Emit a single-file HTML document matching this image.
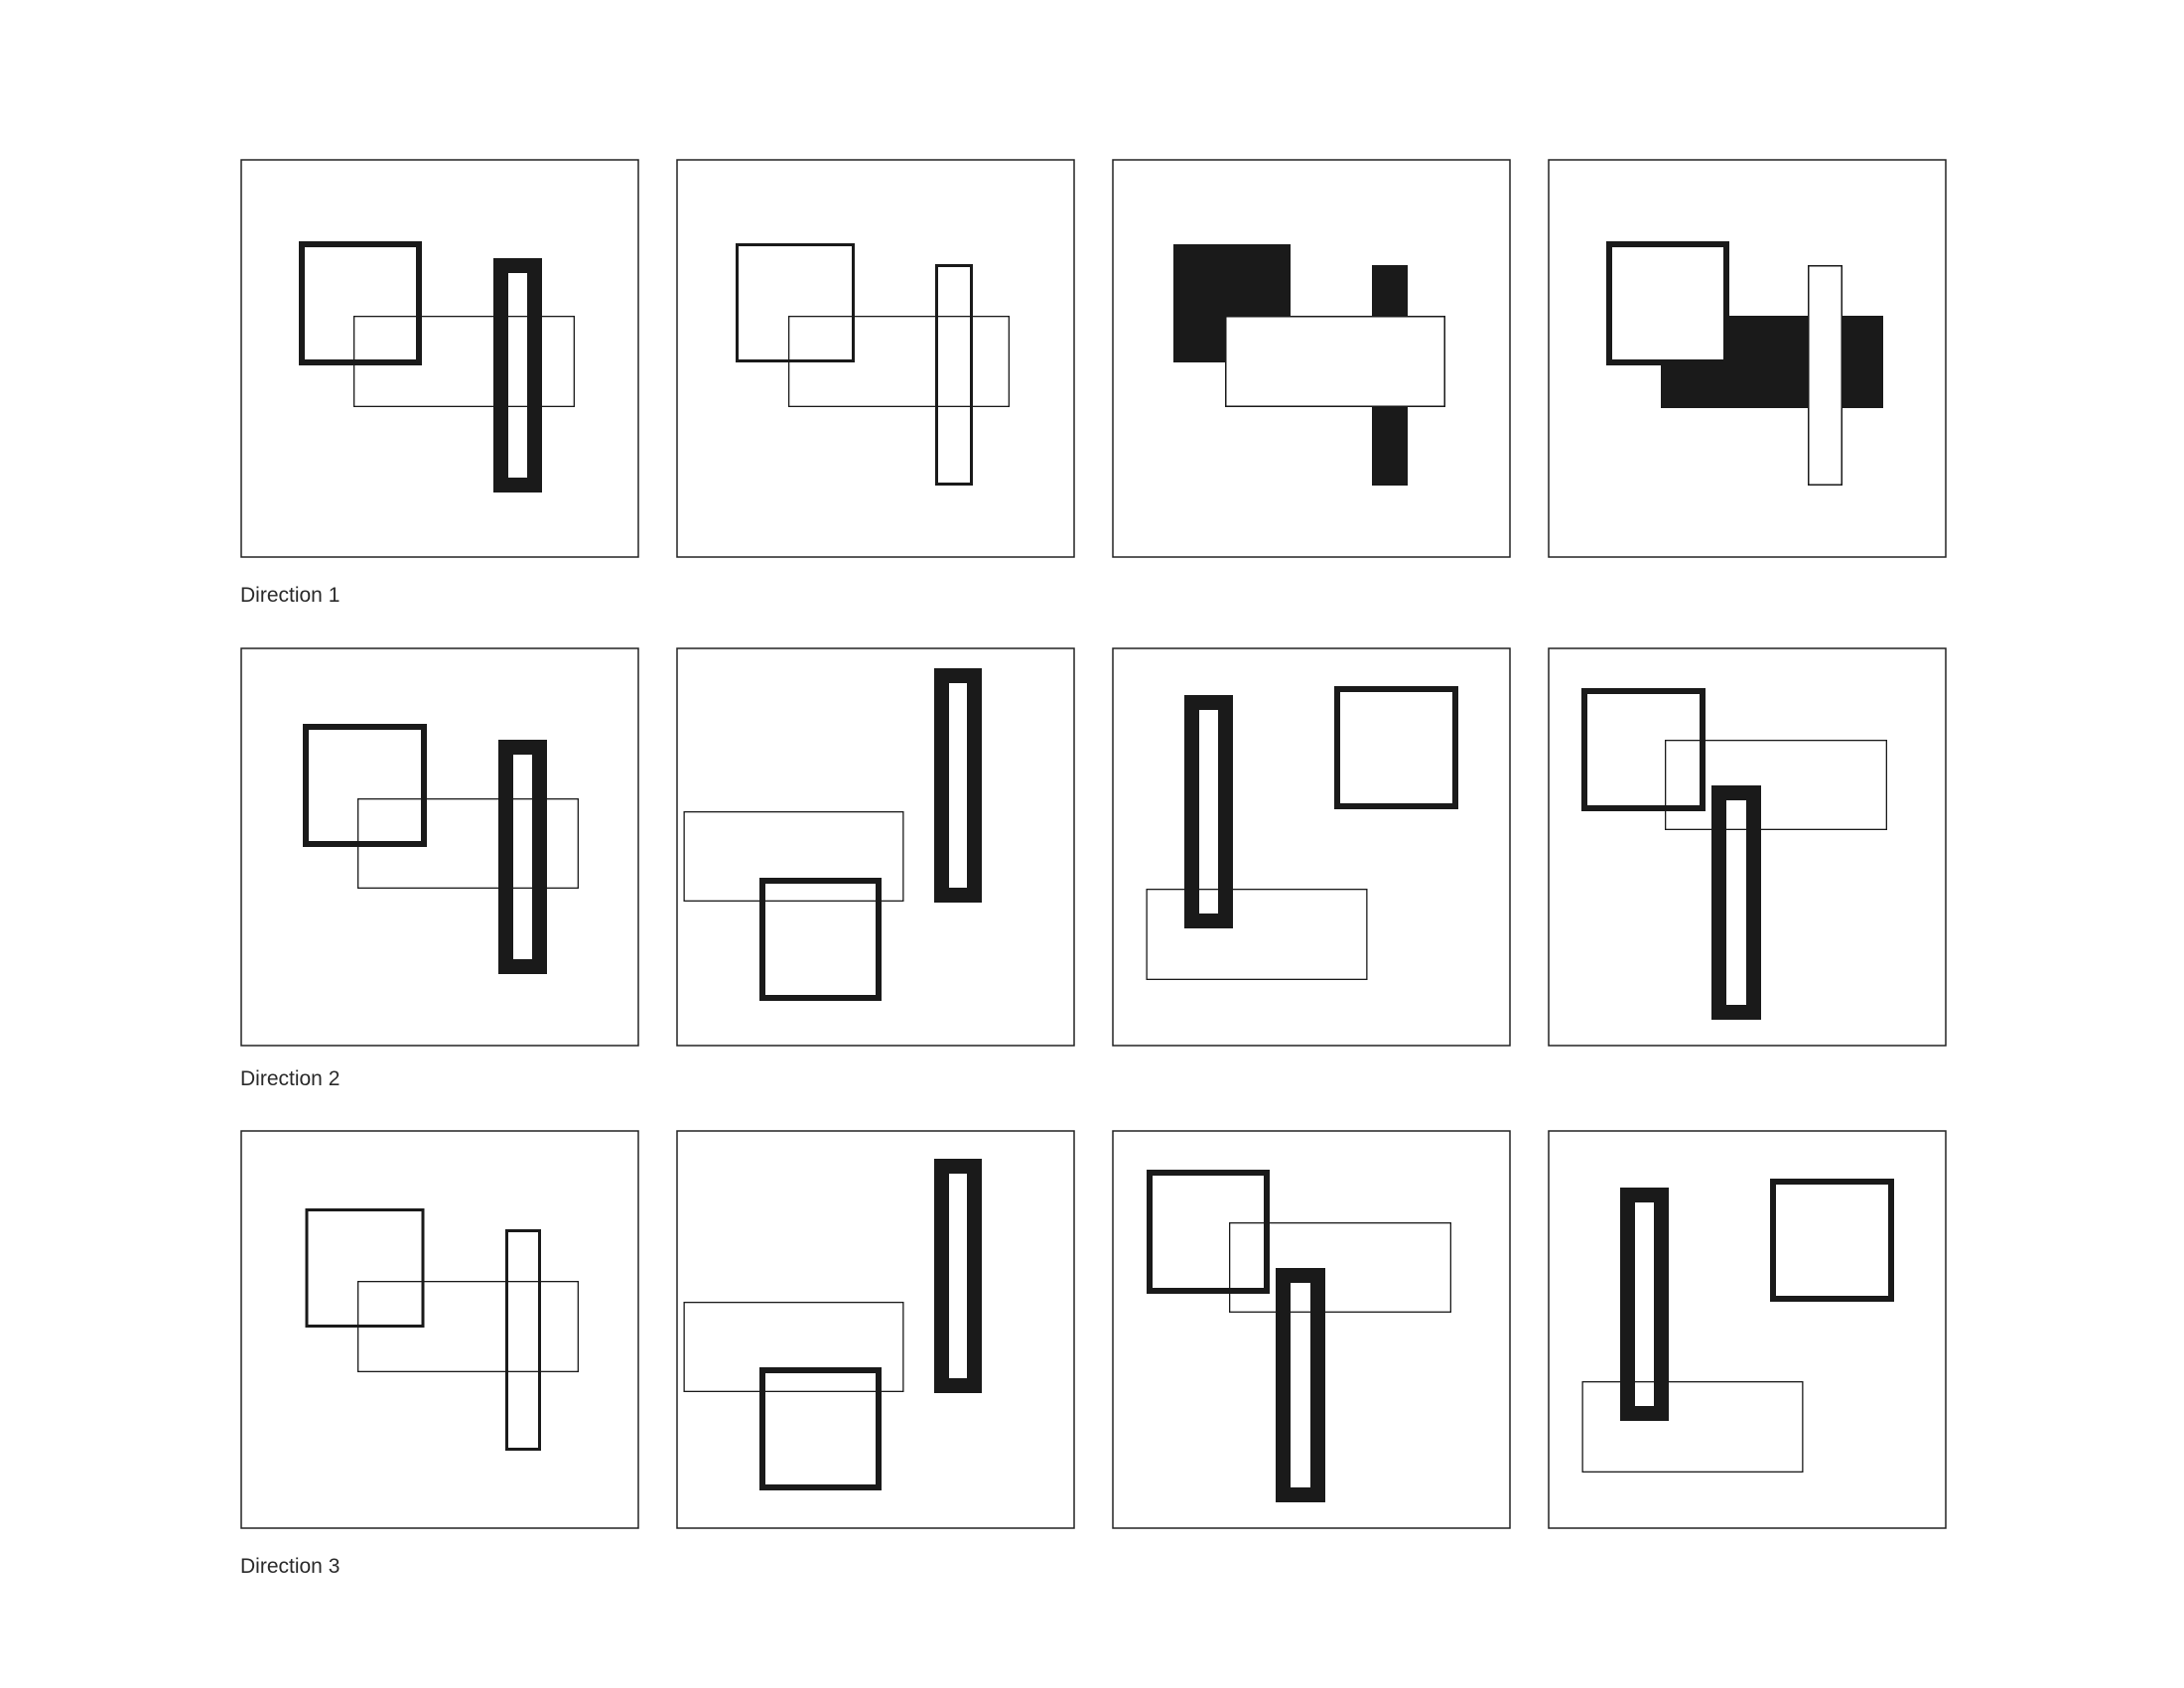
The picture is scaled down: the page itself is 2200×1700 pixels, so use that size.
<!DOCTYPE html>
<html><head><meta charset="utf-8"><style>
html,body{margin:0;padding:0;background:#fff;}
svg{display:block;}
.lbl{font-family:"Liberation Sans",sans-serif;font-size:21px;fill:#2a2a2a;font-weight:normal;}
</style></head><body>
<svg id="c" width="2200" height="1700" viewBox="0 0 2200 1700" xmlns="http://www.w3.org/2000/svg"></svg>
<script>
const colX = [243, 682, 1121, 1560];
const rowY = [161, 653, 1139];
const labels = ["Direction 1", "Direction 2", "Direction 3"];
const labelBaseline = [606, 1093, 1584];
// shapes per panel: [x, y, w, h, strokeWidth, fill, strokeColor]  (outer box, relative to panel)
const panelShapes = [
  // row 1
  [[58,82,124,125,6,"none","#1a1a1a"],[113,157,223,92,1.3,"none","#1a1a1a"],[254,99,49,236,15,"none","#1a1a1a"]],
  [[59,84,120,120,3,"none","#1a1a1a"],[112,157,223,92,1.3,"none","#1a1a1a"],[260,105,38,223,3,"none","#1a1a1a"]],
  [[61,85,118,119,0,"#1a1a1a","none"],[261,106,36,222,0,"#1a1a1a","none"],[113,157,222,92,1.5,"#fff","#1a1a1a"]],
  [[113,157,224,93,0,"#1a1a1a","none"],[58,82,124,125,6,"#fff","#1a1a1a"],[261,106,35,222,1.5,"#fff","#1a1a1a"]],
  // row 2
  [[62,76,125,124,6,"none","#1a1a1a"],[117,151,223,91,1.3,"none","#1a1a1a"],[259,92,49,236,15,"none","#1a1a1a"]],
  [[6.5,164,222,91,1.3,"none","#1a1a1a"],[83,231,123,124,6,"none","#1a1a1a"],[259,20,48,236,15,"none","#1a1a1a"]],
  [[72,47,49,235,15,"none","#1a1a1a"],[223,38,125,124,6,"none","#1a1a1a"],[33.5,242,223,92,1.3,"none","#1a1a1a"]],
  [[33,40,125,124,6,"none","#1a1a1a"],[117,92,224,91,1.3,"none","#1a1a1a"],[164,138,50,236,15,"none","#1a1a1a"]],
  // row 3
  [[64.5,78,120,120,3,"none","#1a1a1a"],[117,151,223,92,1.3,"none","#1a1a1a"],[266,99,36,223,3,"none","#1a1a1a"]],
  [[6.5,172,222,91,1.3,"none","#1a1a1a"],[83,238,123,124,6,"none","#1a1a1a"],[259,28,48,236,15,"none","#1a1a1a"]],
  [[34,39,124,125,6,"none","#1a1a1a"],[117,92,224,91,1.3,"none","#1a1a1a"],[164,138,50,236,15,"none","#1a1a1a"]],
  [[72,57,49,235,15,"none","#1a1a1a"],[223,48,125,124,6,"none","#1a1a1a"],[33.5,252,223,92,1.3,"none","#1a1a1a"]]
];
const NS = "http://www.w3.org/2000/svg";
const svg = document.getElementById("c");
const PW = 400;
for (let r = 0; r < 3; r++) {
  const t = document.createElementNS(NS, "text");
  t.setAttribute("x", colX[0] - 1);
  t.setAttribute("y", labelBaseline[r]);
  t.setAttribute("class", "lbl");
  t.textContent = labels[r];
  
  
  svg.appendChild(t);
  for (let c = 0; c < 4; c++) {
    const g = document.createElementNS(NS, "g");
    g.setAttribute("transform", `translate(${colX[c]},${rowY[r]})`);
    
    
    const frame = document.createElementNS(NS, "rect");
    frame.setAttribute("x", 0); frame.setAttribute("y", 0);
    frame.setAttribute("width", PW); frame.setAttribute("height", PW);
    frame.setAttribute("fill", "#fff"); frame.setAttribute("stroke", "#222");
    frame.setAttribute("stroke-width", "1.5");
    
    
    g.appendChild(frame);
    for (const s of panelShapes[r * 4 + c]) {
      const [x, y, w, h, sw, fill, stroke] = s;
      const e = document.createElementNS(NS, "rect");
      const hs = sw / 2;
      e.setAttribute("x", x + hs); e.setAttribute("y", y + hs);
      e.setAttribute("width", w - sw); e.setAttribute("height", h - sw);
      e.setAttribute("fill", fill);
      e.setAttribute("stroke", stroke);
      e.setAttribute("stroke-width", sw);
      
      
      g.appendChild(e);
    }
    svg.appendChild(g);
  }
}
</script>
</body></html>
